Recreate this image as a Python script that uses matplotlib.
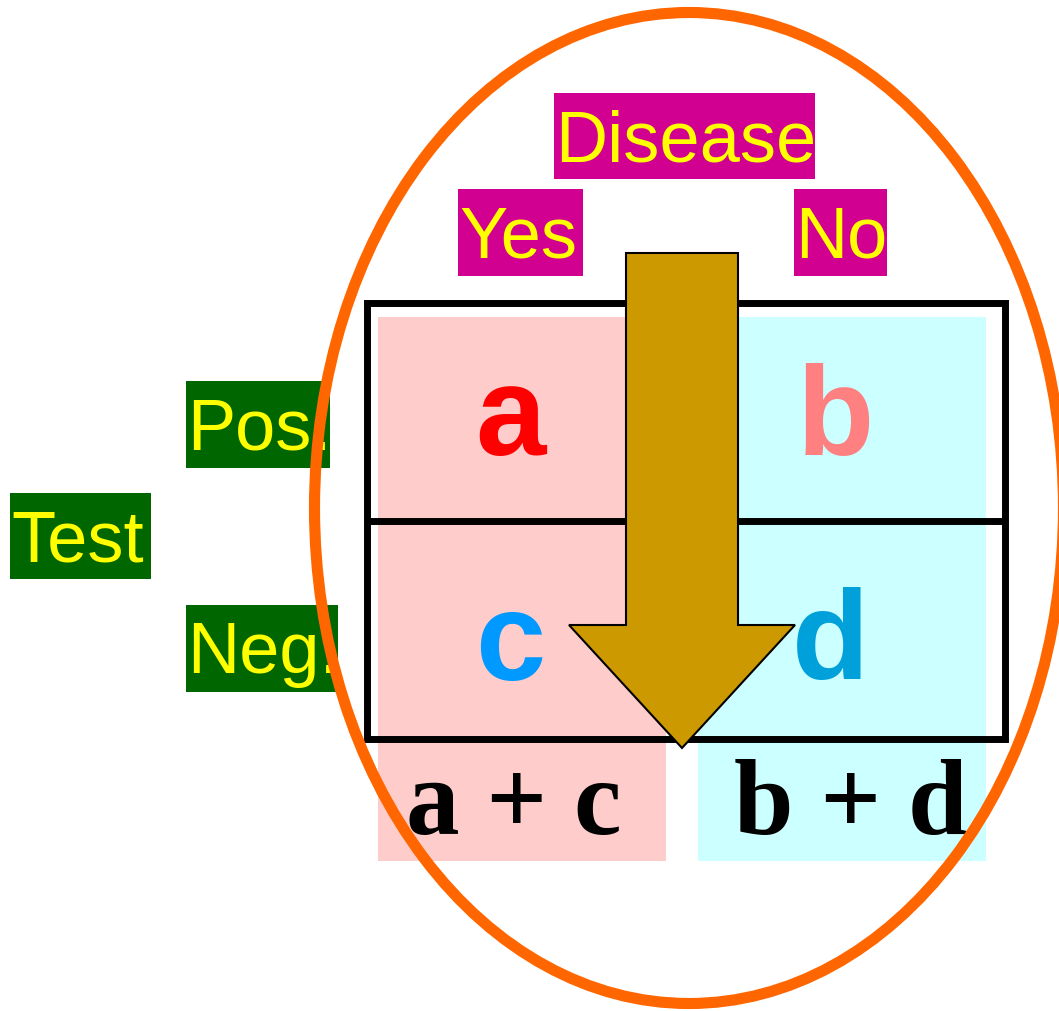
import matplotlib
matplotlib.use("Agg")
import matplotlib.pyplot as plt
from matplotlib.patches import Rectangle, Ellipse, Polygon

# ---- content ----
header_label = "Disease"
column_labels = ["Yes", "No"]
row_labels = ["Pos.", "Neg."]
side_label = "Test"
cell_letters = ["a", "b", "c", "d"]
cell_colors = ["#FF0000", "#FF8080", "#0099FF", "#00A0DA"]
column_totals = ["a + c", "b + d"]

MAGENTA = "#D10090"
GREEN = "#006600"
YELLOW = "#FFFF00"
PINK = "#FFCCCC"
CYAN = "#CCFFFF"
ARROW = "#CC9900"
ORANGE = "#FF6600"

W, H = 1059, 1011
fig = plt.figure(figsize=(W / 100, H / 100), dpi=100)
ax = fig.add_axes([0, 0, 1, 1])
ax.set_xlim(0, W)
ax.set_ylim(H, 0)
ax.axis("off")

sans = ["Liberation Sans", "DejaVu Sans"]
serif = ["Liberation Serif", "DejaVu Serif"]

# column fills
ax.add_patch(Rectangle((378, 317), 288, 544, fc=PINK, ec="none", zorder=1))
ax.add_patch(Rectangle((698, 317), 288, 544, fc=CYAN, ec="none", zorder=1))

# table lines
ax.add_patch(Rectangle((367, 303), 638, 436, fc="none", ec="black", lw=5, zorder=2))
ax.plot([367, 1005], [521, 521], color="black", lw=5, zorder=2, solid_capstyle="butt")

# cell letters
cell_pos = [(510, 455), (835, 455), (510, 680), (830, 679)]
for (x, y), letter, col in zip(cell_pos, cell_letters, cell_colors):
    ax.text(x, y, letter, color=col, fontsize=91, fontweight="bold", family=sans,
            ha="center", va="baseline", zorder=3)

# arrow
arrow_pts = [(626, 253), (738, 253), (738, 625), (795, 625), (682, 748),
             (569, 625), (626, 625)]
ax.add_patch(Polygon(arrow_pts, closed=True, fc=ARROW, ec="black", lw=1.5,
                     joinstyle="miter", zorder=4))

# totals
for x, t in zip([514, 851], column_totals):
    ax.text(x, 834, t, fontsize=77, fontweight="bold", family=serif,
            ha="center", va="baseline", color="black", zorder=3)

# labelled boxes: (text, left, top, width, height, facecolor)
boxes = [
    (header_label, 554, 93, 261, 86, MAGENTA),
    (column_labels[0], 458, 189, 125, 87, MAGENTA),
    (column_labels[1], 794, 189, 93, 87, MAGENTA),
    (row_labels[0], 186, 381, 144, 87, GREEN),
    (row_labels[1], 186, 605, 152, 87, GREEN),
    (side_label, 10, 493, 141, 86, GREEN),
]
for text, x0, y0, w, h, fc in boxes:
    ax.add_patch(Rectangle((x0, y0), w, h, fc=fc, ec="none", zorder=5))
    ax.text(x0 + 1, y0 + 68, text, color=YELLOW, fontsize=52, family=sans,
            ha="left", va="baseline", zorder=6)

# ellipse
ax.add_patch(Ellipse((689, 508), 749, 991, fc="none", ec=ORANGE, lw=8, zorder=7))

fig.savefig("out.png", dpi=100)
